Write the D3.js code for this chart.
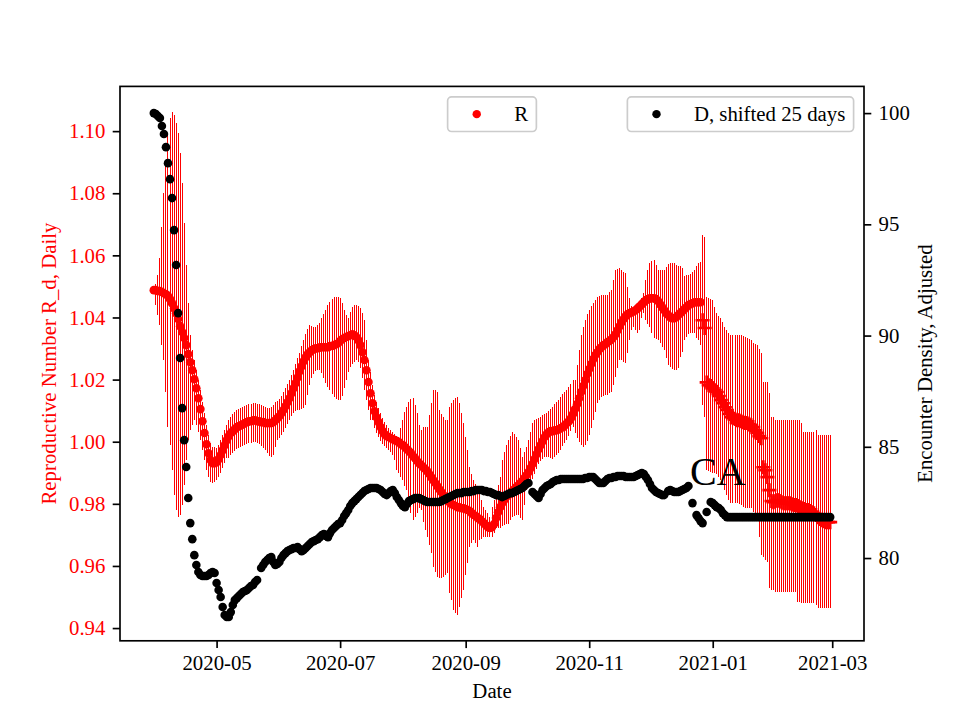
<!DOCTYPE html>
<html><head><meta charset="utf-8">
<script src="https://cdn.jsdelivr.net/npm/d3@7"></script>
<style>
body{margin:0;background:#fff}
svg text{font-family:"Liberation Serif","Times New Roman",serif}
</style>
</head><body>
<svg id="chart" width="960" height="720"></svg>
<script>
// ---------------- DATA ----------------
const startDate = "2020-03-31";     // first daily observation
const plusFrom  = "2020-12-27";     // from this day R is drawn with '+' markers
const rValues = [
1.0488,1.0488,1.0485,1.0485,1.0482,1.0478,1.0475,1.0469,1.0459,1.0446,
1.0430,1.0414,1.0395,1.0372,1.0353,1.0334,1.0311,1.0282,1.0256,1.0230,
1.0201,1.0172,1.0140,1.0105,1.0066,1.0028,0.9992,0.9963,0.9941,0.9931,
0.9931,0.9934,0.9944,0.9957,0.9973,0.9989,1.0005,1.0018,1.0028,1.0034,
1.0040,1.0047,1.0050,1.0053,1.0056,1.0060,1.0063,1.0066,1.0066,1.0069,
1.0069,1.0066,1.0066,1.0063,1.0063,1.0060,1.0060,1.0060,1.0060,1.0063,
1.0069,1.0076,1.0082,1.0092,1.0102,1.0114,1.0127,1.0140,1.0156,1.0172,
1.0188,1.0207,1.0227,1.0243,1.0259,1.0272,1.0282,1.0288,1.0295,1.0298,
1.0301,1.0301,1.0304,1.0304,1.0304,1.0304,1.0304,1.0308,1.0308,1.0311,
1.0314,1.0317,1.0324,1.0330,1.0334,1.0337,1.0340,1.0343,1.0346,1.0343,
1.0337,1.0327,1.0311,1.0288,1.0263,1.0230,1.0192,1.0156,1.0124,1.0098,
1.0079,1.0063,1.0047,1.0034,1.0024,1.0018,1.0015,1.0011,1.0008,1.0005,
1.0002,0.9999,0.9992,0.9989,0.9983,0.9976,0.9970,0.9963,0.9954,0.9947,
0.9938,0.9931,0.9925,0.9918,0.9912,0.9905,0.9896,0.9886,0.9876,0.9867,
0.9857,0.9847,0.9838,0.9828,0.9818,0.9812,0.9805,0.9799,0.9796,0.9793,
0.9789,0.9789,0.9786,0.9786,0.9783,0.9780,0.9777,0.9770,0.9764,0.9761,
0.9754,0.9751,0.9744,0.9738,0.9731,0.9725,0.9722,0.9725,0.9735,0.9754,
0.9773,0.9789,0.9802,0.9812,0.9822,0.9828,0.9834,0.9841,0.9847,0.9854,
0.9860,0.9867,0.9873,0.9883,0.9892,0.9902,0.9915,0.9928,0.9944,0.9960,
0.9976,0.9989,1.0002,1.0015,1.0024,1.0031,1.0034,1.0034,1.0037,1.0037,
1.0040,1.0044,1.0047,1.0053,1.0060,1.0066,1.0076,1.0089,1.0105,1.0121,
1.0140,1.0160,1.0179,1.0198,1.0218,1.0234,1.0250,1.0266,1.0279,1.0288,
1.0298,1.0304,1.0311,1.0314,1.0321,1.0324,1.0330,1.0337,1.0346,1.0359,
1.0372,1.0385,1.0395,1.0404,1.0411,1.0414,1.0417,1.0420,1.0424,1.0430,
1.0436,1.0443,1.0449,1.0456,1.0459,1.0462,1.0462,1.0462,1.0459,1.0453,
1.0443,1.0433,1.0424,1.0414,1.0408,1.0401,1.0398,1.0398,1.0401,1.0408,
1.0414,1.0420,1.0427,1.0433,1.0440,1.0443,1.0446,1.0449,1.0449,1.0449,
1.0449,1.0391,1.0366,1.0191,1.0182,1.0179,1.0172,1.0166,1.0160,1.0147,
1.0134,1.0124,1.0111,1.0102,1.0089,1.0079,1.0076,1.0073,1.0069,1.0069,
1.0066,1.0063,1.0060,1.0060,1.0056,1.0053,1.0047,1.0037,1.0028,1.0018,
1.0011,0.9918,0.9908,0.9886,0.9844,0.9809,0.9805,0.9809,0.9812,0.9809,
0.9805,0.9802,0.9802,0.9802,0.9802,0.9799,0.9796,0.9796,0.9793,0.9789,
0.9786,0.9783,0.9780,0.9780,0.9777,0.9773,0.9770,0.9764,0.9757,0.9751,
0.9747,0.9744,0.9741,0.9741,0.9741];
const rUpper = [
1.0497,1.0507,1.0537,1.0591,1.0691,1.0800,1.0897,1.0987,1.1042,1.1062,
1.1052,1.1026,1.0993,1.0929,1.0832,1.0704,1.0569,1.0446,1.0343,1.0295,
1.0263,1.0231,1.0198,1.0166,1.0128,1.0092,1.0054,1.0021,0.9995,0.9982,
0.9982,0.9979,0.9989,1.0005,1.0021,1.0037,1.0054,1.0070,1.0079,1.0089,
1.0096,1.0102,1.0105,1.0108,1.0111,1.0115,1.0118,1.0121,1.0121,1.0124,
1.0124,1.0121,1.0121,1.0118,1.0115,1.0111,1.0108,1.0108,1.0111,1.0118,
1.0128,1.0131,1.0137,1.0147,1.0160,1.0172,1.0185,1.0198,1.0215,1.0231,
1.0250,1.0269,1.0285,1.0308,1.0327,1.0346,1.0363,1.0376,1.0373,1.0370,
1.0370,1.0376,1.0382,1.0398,1.0411,1.0424,1.0440,1.0450,1.0459,1.0465,
1.0465,1.0465,1.0462,1.0446,1.0424,1.0408,1.0398,1.0417,1.0433,1.0440,
1.0440,1.0437,1.0430,1.0414,1.0392,1.0327,1.0263,1.0225,1.0182,1.0150,
1.0128,1.0108,1.0092,1.0076,1.0064,1.0054,1.0044,1.0037,1.0031,1.0024,
1.0018,1.0015,1.0044,1.0070,1.0096,1.0111,1.0128,1.0137,1.0140,1.0118,
1.0092,1.0054,1.0037,1.0047,1.0047,1.0047,1.0086,1.0124,1.0166,1.0166,
1.0160,1.0102,1.0089,1.0079,1.0070,1.0070,1.0111,1.0124,1.0134,1.0140,
1.0143,1.0124,1.0092,1.0060,1.0015,0.9973,0.9918,0.9896,0.9876,0.9863,
0.9854,0.9844,0.9812,0.9789,0.9780,0.9770,0.9757,0.9789,0.9812,0.9821,
0.9860,0.9886,0.9941,0.9967,0.9989,1.0005,1.0018,1.0031,1.0024,1.0015,
1.0005,0.9979,0.9950,0.9967,0.9982,1.0005,1.0031,1.0060,1.0070,1.0073,
1.0076,1.0079,1.0086,1.0089,1.0092,1.0099,1.0105,1.0111,1.0121,1.0128,
1.0134,1.0143,1.0153,1.0160,1.0166,1.0176,1.0185,1.0198,1.0198,1.0247,
1.0295,1.0343,1.0370,1.0392,1.0411,1.0424,1.0437,1.0446,1.0456,1.0465,
1.0469,1.0472,1.0472,1.0472,1.0472,1.0482,1.0488,1.0520,1.0553,1.0556,
1.0559,1.0553,1.0546,1.0543,1.0497,1.0462,1.0437,1.0424,1.0430,1.0440,
1.0446,1.0462,1.0478,1.0520,1.0553,1.0575,1.0582,1.0585,1.0569,1.0553,
1.0553,1.0553,1.0553,1.0562,1.0572,1.0575,1.0575,1.0575,1.0569,1.0566,
1.0566,1.0559,1.0534,1.0537,1.0537,1.0540,1.0546,1.0553,1.0566,1.0575,
1.0578,1.0665,1.0658,1.0465,1.0462,1.0459,1.0456,1.0433,1.0414,1.0404,
1.0398,1.0385,1.0370,1.0359,1.0350,1.0343,1.0343,1.0343,1.0343,1.0343,
1.0343,1.0340,1.0337,1.0334,1.0330,1.0327,1.0318,1.0314,1.0311,1.0298,
1.0285,1.0192,1.0192,1.0192,1.0156,1.0079,1.0079,1.0070,1.0070,1.0070,
1.0070,1.0070,1.0070,1.0070,1.0070,1.0070,1.0070,1.0070,1.0070,1.0070,
1.0060,1.0031,1.0031,1.0031,1.0031,1.0031,1.0031,1.0037,1.0021,1.0021,
1.0021,1.0021,1.0021,1.0021,1.0021];
const rLower = [
1.0478,1.0440,1.0408,1.0376,1.0311,1.0263,1.0160,1.0047,0.9989,0.9908,
0.9828,0.9780,0.9757,0.9764,0.9796,0.9860,0.9941,1.0005,1.0037,1.0054,
1.0070,1.0054,1.0031,1.0005,0.9973,0.9941,0.9908,0.9886,0.9870,0.9867,
0.9870,0.9876,0.9886,0.9899,0.9915,0.9931,0.9947,0.9947,0.9957,0.9963,
0.9970,0.9976,0.9979,0.9982,0.9986,0.9989,0.9992,0.9995,0.9995,0.9999,
0.9999,0.9995,0.9992,0.9986,0.9979,0.9973,0.9963,0.9954,0.9950,0.9957,
0.9982,1.0005,1.0011,1.0021,1.0031,1.0044,1.0057,1.0070,1.0082,1.0092,
1.0099,1.0102,1.0102,1.0105,1.0108,1.0118,1.0150,1.0182,1.0205,1.0218,
1.0228,1.0231,1.0231,1.0221,1.0205,1.0189,1.0176,1.0166,1.0153,1.0143,
1.0137,1.0134,1.0134,1.0147,1.0172,1.0198,1.0225,1.0240,1.0250,1.0256,
1.0263,1.0256,1.0237,1.0205,1.0166,1.0134,1.0102,1.0070,1.0070,1.0044,
1.0028,1.0015,1.0002,0.9992,0.9986,0.9979,0.9973,0.9967,0.9957,0.9941,
0.9908,0.9899,0.9886,0.9876,0.9857,0.9844,0.9796,0.9770,0.9747,0.9757,
0.9770,0.9786,0.9780,0.9741,0.9715,0.9692,0.9667,0.9641,0.9596,0.9581,
0.9564,0.9561,0.9561,0.9564,0.9571,0.9577,0.9512,0.9490,0.9458,0.9448,
0.9442,0.9467,0.9496,0.9522,0.9571,0.9609,0.9661,0.9673,0.9683,0.9673,
0.9661,0.9683,0.9686,0.9692,0.9692,0.9692,0.9692,0.9692,0.9706,0.9722,
0.9722,0.9722,0.9728,0.9731,0.9735,0.9735,0.9747,0.9757,0.9760,0.9764,
0.9764,0.9754,0.9747,0.9796,0.9844,0.9853,0.9867,0.9880,0.9896,0.9912,
0.9928,0.9938,0.9944,0.9950,0.9950,0.9950,0.9947,0.9944,0.9950,0.9957,
0.9963,0.9973,0.9986,0.9995,1.0005,1.0018,1.0034,1.0047,1.0028,1.0011,
0.9999,0.9989,0.9982,0.9989,1.0002,1.0021,1.0044,1.0070,1.0096,1.0124,
1.0134,1.0143,1.0147,1.0150,1.0150,1.0156,1.0160,1.0182,1.0208,1.0237,
1.0263,1.0263,1.0256,1.0253,1.0285,1.0327,1.0359,1.0370,1.0359,1.0350,
1.0359,1.0398,1.0414,1.0392,1.0379,1.0370,1.0350,1.0334,1.0330,1.0327,
1.0318,1.0305,1.0295,1.0269,1.0247,1.0240,1.0234,1.0231,1.0231,1.0237,
1.0272,1.0288,1.0327,1.0337,1.0346,1.0350,1.0350,1.0350,1.0334,1.0327,
1.0311,1.0118,1.0079,0.9908,0.9905,0.9902,0.9899,0.9899,0.9896,0.9886,
0.9876,0.9860,0.9844,0.9828,0.9812,0.9802,0.9802,0.9802,0.9802,0.9799,
0.9796,0.9789,0.9786,0.9786,0.9786,0.9786,0.9773,0.9760,0.9747,0.9692,
0.9635,0.9629,0.9619,0.9612,0.9528,0.9522,0.9522,0.9515,0.9515,0.9515,
0.9515,0.9515,0.9515,0.9515,0.9515,0.9515,0.9515,0.9515,0.9484,0.9484,
0.9480,0.9480,0.9480,0.9480,0.9480,0.9480,0.9480,0.9474,0.9464,0.9464,
0.9464,0.9464,0.9464,0.9464,0.9464];
const dValues = [
100.00,99.96,99.87,99.78,99.42,99.06,98.47,97.75,97.03,96.18,
94.74,93.17,91.01,88.99,86.74,85.30,84.09,82.70,81.57,80.85,
80.13,79.69,79.37,79.24,79.19,79.19,79.19,79.24,79.33,79.37,
79.33,78.88,78.56,78.25,77.80,77.44,77.35,77.35,77.57,77.89,
78.11,78.20,78.29,78.38,78.47,78.52,78.56,78.65,78.74,78.79,
78.92,79.01,null,79.55,79.69,79.82,79.91,80.00,80.04,79.82,
79.69,79.73,79.82,80.00,80.13,80.22,80.31,80.36,80.40,80.45,
80.45,80.49,80.40,80.31,80.36,80.45,80.54,80.63,80.72,80.76,
80.81,80.85,80.94,81.03,81.08,80.99,80.94,81.12,81.26,81.35,
81.44,81.53,81.57,81.71,81.89,82.02,82.16,82.34,82.47,82.56,
82.65,82.74,82.83,82.92,83.01,83.06,83.10,83.15,83.15,83.15,
83.15,83.10,83.06,82.97,82.88,82.83,82.92,83.01,83.06,82.92,
82.74,82.61,82.47,82.34,82.29,82.43,82.56,82.61,82.65,82.70,
82.70,82.70,82.65,82.61,82.56,82.52,82.52,82.52,82.52,82.52,
82.52,82.52,82.56,82.61,82.65,82.70,82.74,82.79,82.83,82.88,
82.92,82.92,82.92,82.97,82.97,82.97,82.97,83.01,83.01,83.06,
83.06,83.06,83.06,83.01,83.01,82.97,82.97,82.92,82.88,82.83,
82.83,82.79,82.74,82.79,82.83,82.88,82.92,82.92,82.97,83.01,
83.06,83.10,83.15,83.24,83.33,83.37,null,82.97,82.88,82.79,
82.70,82.88,83.06,83.15,83.24,83.28,83.33,83.42,83.46,83.51,
83.51,83.55,83.55,83.55,83.55,83.55,83.55,83.55,83.55,83.55,
83.55,83.55,83.55,83.60,83.60,83.64,83.64,83.64,83.55,83.46,
83.37,83.37,83.37,83.46,83.55,83.60,83.60,83.64,83.64,83.69,
83.69,83.69,83.69,83.64,83.64,83.64,83.64,83.64,83.69,83.73,
83.78,83.82,83.78,83.64,83.51,83.33,83.15,83.06,82.97,82.92,
82.88,82.83,82.83,null,83.01,83.06,83.01,82.97,82.97,82.97,
83.01,83.06,83.10,83.15,83.24,null,82.47,null,81.93,81.80,
81.66,81.57,null,82.07,null,82.52,82.47,82.38,82.29,82.25,
82.16,82.02,81.93,81.84,81.84,81.84,81.84,81.84,81.84,81.84,
81.84,81.84,81.84,81.84,81.84,81.84,81.84,81.84,81.84,81.84,
81.84,81.84,81.84,81.84,81.84,81.84,81.84,81.84,81.84,81.84,
81.84,81.84,81.84,81.84,81.84,81.84,81.84,81.84,81.84,81.84,
81.84,81.84,81.84,81.84,81.84,81.84,81.84,81.84,81.84,81.84,
81.84,81.84,81.84,81.84,81.84];
const xTickLabels = ["2020-05-01","2020-07-01","2020-09-01","2020-11-01","2021-01-01","2021-03-01"];
const rTicks = [0.94,0.96,0.98,1.00,1.02,1.04,1.06,1.08,1.10];
const dTicks = [80,85,90,95,100];
const rDomain = [0.9359, 1.1144];
const dDomain = [76.28, 101.20];
const legendR = "R";
const legendD = "D, shifted 25 days";
const regionLabel = "CA";
const xTitle = "Date";
const rTitle = "Reproductive Number R_d, Daily";
const dTitle = "Encounter Density, Adjusted";

// ---------------- LAYOUT ----------------
const L = 120, R = 864, T = 86.4, B = 640.8;
const FS = 20.8;
const svg = d3.select("#chart");
const parse = d3.utcParse("%Y-%m-%d");
const t0 = parse(startDate);
const dates = rValues.map((_, i) => d3.utcDay.offset(t0, i));
const plusDate = parse(plusFrom);
const t1 = dates[dates.length - 1];
const span = t1 - t0;
const x = d3.scaleUtc().domain([new Date(+t0 - 0.05 * span), new Date(+t1 + 0.05 * span)]).range([L, R]);
const yR = d3.scaleLinear().domain(rDomain).range([B, T]);
const yD = d3.scaleLinear().domain(dDomain).range([B, T]);

svg.append("rect").attr("width", 960).attr("height", 720).attr("fill", "#fff");
svg.append("defs").append("clipPath").attr("id", "clip")
  .append("rect").attr("x", L).attr("y", T).attr("width", R - L).attr("height", B - T);

const rData = dates.map((d, i) => ({d, v: rValues[i], lo: rLower[i], hi: rUpper[i]}));
const dData = dates.map((d, i) => ({d, v: dValues[i]})).filter(o => o.v !== null);

const plot = svg.append("g").attr("clip-path", "url(#clip)");
// error bars
plot.append("g").selectAll("line").data(rData).join("line")
  .attr("x1", o => x(o.d)).attr("x2", o => x(o.d))
  .attr("y1", o => yR(o.lo)).attr("y2", o => yR(o.hi))
  .attr("stroke", "#ff0000").attr("stroke-width", 1).attr("shape-rendering", "crispEdges");
// R dots
plot.append("g").selectAll("circle").data(rData.filter(o => o.d < plusDate)).join("circle")
  .attr("cx", o => x(o.d)).attr("cy", o => yR(o.v)).attr("r", 4.3).attr("fill", "#ff0000");
// R plus markers
plot.append("g").selectAll("path").data(rData.filter(o => o.d >= plusDate)).join("path")
  .attr("transform", o => `translate(${x(o.d)},${yR(o.v)})`)
  .attr("d", "M-7,0H7M0,-7V7").attr("stroke", "#ff0000").attr("stroke-width", 2.6).attr("fill", "none");
// D dots
plot.append("g").selectAll("circle").data(dData).join("circle")
  .attr("cx", o => x(o.d)).attr("cy", o => yD(o.v)).attr("r", 4.3).attr("fill", "#000");

// region label
svg.append("text").attr("x", 690).attr("y", 485).attr("font-size", 40).attr("fill", "#000").text(regionLabel);

// axes
const styleAxis = (g, color) => {
  g.select(".domain").remove();
  g.selectAll(".tick line").attr("stroke", "#000").attr("stroke-width", 1.67);
  g.selectAll(".tick text").attr("fill", color).attr("font-size", FS).attr("font-family", '"Liberation Serif","Times New Roman",serif');
};
const gx = svg.append("g").attr("transform", `translate(0,${B})`)
  .call(d3.axisBottom(x).tickValues(xTickLabels.map(parse)).tickFormat(d3.utcFormat("%Y-%m")).tickSize(7.3).tickPadding(7.3));
styleAxis(gx, "#000");
const gl = svg.append("g").attr("transform", `translate(${L},0)`)
  .call(d3.axisLeft(yR).tickValues(rTicks).tickFormat(d3.format(".2f")).tickSize(7.3).tickPadding(7.3));
styleAxis(gl, "#ff0000");
const gr = svg.append("g").attr("transform", `translate(${R},0)`)
  .call(d3.axisRight(yD).tickValues(dTicks).tickFormat(d3.format("d")).tickSize(7.3).tickPadding(7.3));
styleAxis(gr, "#000");

svg.append("rect").attr("x", L).attr("y", T).attr("width", R - L).attr("height", B - T)
  .attr("fill", "none").attr("stroke", "#000").attr("stroke-width", 1.67);

// titles
svg.append("text").attr("x", (L + R) / 2).attr("y", 698).attr("text-anchor", "middle").attr("font-size", FS).text(xTitle);
svg.append("text").attr("transform", `translate(56,${(T + B) / 2}) rotate(-90)`).attr("text-anchor", "middle")
  .attr("font-size", FS).attr("fill", "#ff0000").text(rTitle);
svg.append("text").attr("transform", `translate(932,${(T + B) / 2}) rotate(-90)`).attr("text-anchor", "middle")
  .attr("font-size", FS).attr("fill", "#000").text(dTitle);

// legends
function legend(label, color, anchor) {
  const g = svg.append("g");
  const pad = 0.4 * FS, hl = 2 * FS, htp = 0.8 * FS, h = 34.7;
  const txt = g.append("text").attr("font-size", FS).text(label);
  const tw = txt.node().getComputedTextLength();
  const w = pad + hl + htp + tw + pad;
  const top = T + 0.5 * FS;
  const left = anchor === "center" ? (L + R) / 2 - w / 2 : R - 0.5 * FS - w;
  g.insert("rect", "text").attr("x", left).attr("y", top).attr("width", w).attr("height", h)
    .attr("rx", 4).attr("ry", 4).attr("fill", "#fff").attr("fill-opacity", 0.8)
    .attr("stroke", "#cccccc").attr("stroke-width", 1.67);
  g.insert("circle", "text").attr("cx", left + pad + hl / 2).attr("cy", top + h / 2).attr("r", 4.2).attr("fill", color);
  txt.attr("x", left + pad + hl + htp).attr("y", top + h / 2 + 7);
}
legend(legendR, "#ff0000", "center");
legend(legendD, "#000", "right");
</script>
</body></html>
